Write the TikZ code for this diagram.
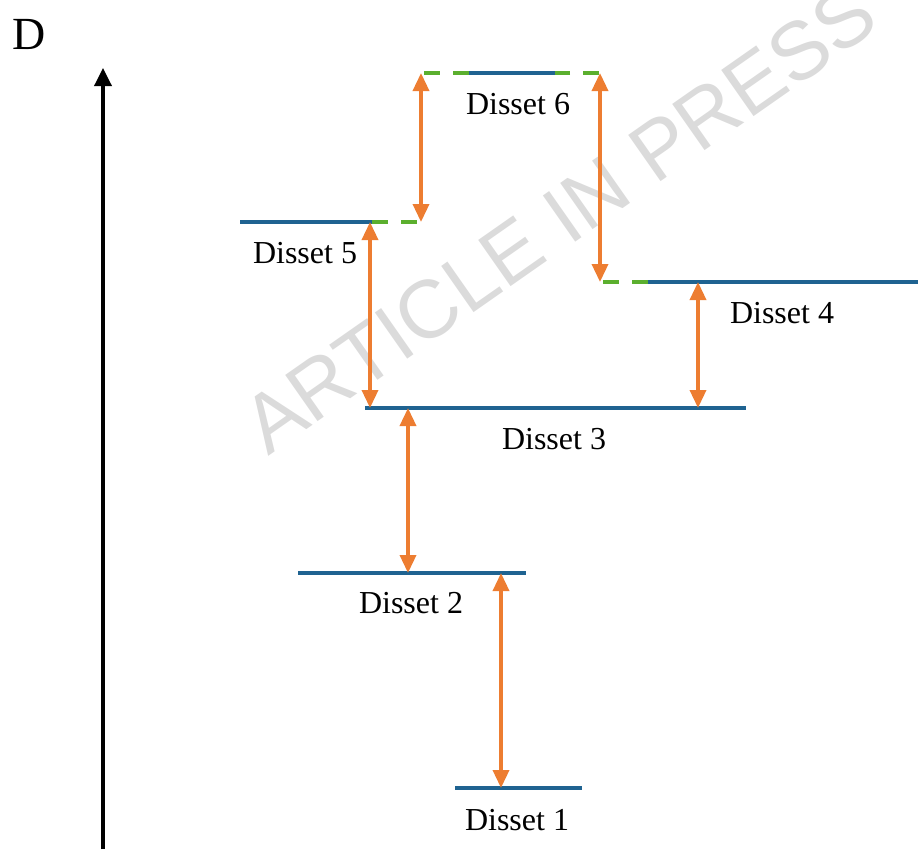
\documentclass[tikz,border=0pt]{standalone}
\usepackage{fontspec}
\setmainfont{Liberation Serif}
\newfontfamily\wmfont{Liberation Sans}
\usetikzlibrary{arrows.meta}
\definecolor{levelblue}{HTML}{1F6391}
\definecolor{linkorange}{HTML}{ED7D31}
\definecolor{stubgreen}{HTML}{5BAF2E}
\begin{document}
\begin{tikzpicture}[x=1pt,y=-1pt,
  level/.style={draw=levelblue,line width=4.5pt},
  stub/.style={draw=stubgreen,line width=4.5pt,dash pattern=on 16pt off 13pt},
  link/.style={draw=linkorange,line width=3.5pt,
    {Triangle[length=18pt,width=16pt]}-{Triangle[length=18pt,width=16pt]}},
  lbl/.style={font=\fontsize{32}{36}\selectfont,inner sep=0pt}]
\useasboundingbox (0,0) rectangle (923,849);

% watermark
\node[rotate=35,anchor=base west,inner sep=0pt,text=black!14,
  font=\wmfont\fontsize{82}{86}\selectfont] (wm) at (268,457) {ARTICLE IN PRESS};

% vertical axis
\coordinate (axb) at (103,849);
\coordinate (axt) at (103,68);
\draw[line width=3.5pt,-{Triangle[length=18pt,width=17pt]}] (axb) -- (axt);
\node[font=\fontsize{46}{50}\selectfont,inner sep=0pt] (D) at (29,34) {D};

% level end points
\coordinate (s6a) at (424,73); \coordinate (s6b) at (599,73);
\coordinate (l6a) at (469,73); \coordinate (l6b) at (555,73);
\coordinate (l5a) at (240,222); \coordinate (l5b) at (372,222);
\coordinate (s5b) at (417,222);
\coordinate (s4a) at (603,282); \coordinate (l4a) at (648,282); \coordinate (l4b) at (918,282);
\coordinate (l3a) at (365,408); \coordinate (l3b) at (746,408);
\coordinate (l2a) at (298,573); \coordinate (l2b) at (526,573);
\coordinate (l1a) at (455,788); \coordinate (l1b) at (582,788);

% dashed stubs, each drawn from its free end
\draw[stub] (s6a) -- (l6a);
\draw[stub] (s6b) -- (l6b);
\draw[stub] (l5b) -- (s5b);
\draw[stub] (s4a) -- (l4a);

% levels
\draw[level] (l6a) -- (l6b);
\draw[level] (l5a) -- (l5b);
\draw[level] (l4a) -- (l4b);
\draw[level] (l3a) -- (l3b);
\draw[level] (l2a) -- (l2b);
\draw[level] (l1a) -- (l1b);

% labels
\node[lbl] (t6) at (518,104) {Disset 6};
\node[lbl] (t5) at (305,253) {Disset 5};
\node[lbl] (t4) at (782,313) {Disset 4};
\node[lbl] (t3) at (554,439) {Disset 3};
\node[lbl] (t2) at (411,603) {Disset 2};
\node[lbl] (t1) at (517,820) {Disset 1};

% links between levels
\coordinate (a1t) at (421,73);  \coordinate (a1b) at (421,222);
\coordinate (a2t) at (600,73);  \coordinate (a2b) at (600,282);
\coordinate (a3t) at (370,222); \coordinate (a3b) at (370,408);
\coordinate (a4t) at (698,282); \coordinate (a4b) at (698,408);
\coordinate (a5t) at (408,408); \coordinate (a5b) at (408,573);
\coordinate (a6t) at (501,573); \coordinate (a6b) at (501,788);
\draw[link] (a1t) -- (a1b);
\draw[link] (a2t) -- (a2b);
\draw[link] (a3t) -- (a3b);
\draw[link] (a4t) -- (a4b);
\draw[link] (a5t) -- (a5b);
\draw[link] (a6t) -- (a6b);
\end{tikzpicture}
\end{document}
